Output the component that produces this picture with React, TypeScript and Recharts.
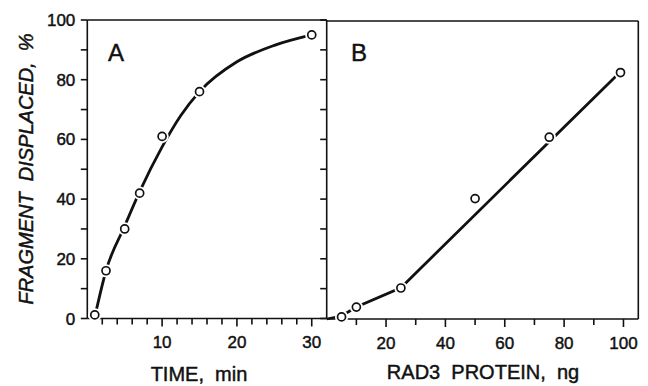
import { LineChart, Line, XAxis, YAxis } from "recharts";

// panel A: time course
const timeMin = [1, 2.5, 5, 7, 10, 15, 30];
const displacedA = [1.2, 16, 30, 42, 61, 76, 95];
const fitTime = [1, 2.5, 5, 7, 10, 12.5, 15, 20, 25, 30];
const fitA = [0.5, 16, 31, 42.5, 57.5, 68, 76, 86, 91.5, 95];

// panel B: protein titration
const rad3Ng = [5, 10, 25, 50, 75, 99];
const displacedB = [0.7, 4, 10.4, 40.4, 61, 82.7];
const fitNg = [0, 5, 10, 25, 99];
const fitB = [0, 1, 4, 10.5, 83];

const yTicks = [0, 10, 20, 30, 40, 50, 60, 70, 80, 90, 100];
const yLabels = [0, 20, 40, 60, 80, 100];
const timeTicks = [2, 4, 6, 8, 10, 12, 14, 16, 18, 20, 22, 24, 26, 28, 30];
const timeLabels = [10, 20, 30];
const ngTicks = [10, 20, 30, 40, 50, 60, 70, 80, 90, 100];
const ngLabels = [20, 40, 60, 80, 100];

const pointsA = timeMin.map((t, i) => ({ x: t, y: displacedA[i] }));
const curveA = fitTime.map((t, i) => ({ x: t, y: fitA[i] }));
const pointsB = rad3Ng.map((n, i) => ({ x: n, y: displacedB[i] }));
const curveB = fitNg.map((n, i) => ({ x: n, y: fitB[i] }));

const FONT = '"Liberation Sans", Arial, Helvetica, sans-serif';
const INK = "#111";
const AXIS_W = 1.6;
// scanned type is a bit heavier than the regular face
const heavy = { stroke: INK, strokeWidth: 0.45 };

function OpenDot(p: any) {
  if (p.cx == null || p.cy == null) return <g key={p.index} />;
  return (
    <g key={p.index}>
      <circle cx={p.cx} cy={p.cy} r={6.6} fill="#fff" />
      <circle cx={p.cx} cy={p.cy} r={4} fill="#fff" stroke={INK} strokeWidth={1.7} />
    </g>
  );
}

function makeXTick(labels: number[]) {
  return (p: any) => {
    const major = labels.includes(p.payload.value);
    return (
      <g>
        <line x1={p.x} x2={p.x} y1={p.y} y2={p.y + (major ? 8 : 6)} stroke={INK} strokeWidth={AXIS_W} />
        {major && (
          <text x={p.x} y={p.y + 29.5} textAnchor="middle" fontSize={17} fontFamily={FONT} fill={INK} {...heavy}>
            {p.payload.value}
          </text>
        )}
      </g>
    );
  };
}

function LeftYTick(p: any) {
  const lab = yLabels.includes(p.payload.value);
  return (
    <g>
      <line x1={p.x - 6.5} x2={p.x} y1={p.y} y2={p.y} stroke={INK} strokeWidth={AXIS_W} />
      {lab && (
        <text x={p.x - 12} y={p.y + 6} textAnchor="end" fontSize={17} fontFamily={FONT} fill={INK} {...heavy}>
          {p.payload.value}
        </text>
      )}
    </g>
  );
}

function InnerRightTick(p: any) {
  return <line x1={p.x - 6.5} x2={p.x} y1={p.y} y2={p.y} stroke={INK} strokeWidth={AXIS_W} />;
}

const frameLine = { stroke: INK, strokeWidth: AXIS_W };
const W = 648;
const H = 386;

export default function App() {
  return (
    <div style={{ position: "absolute", left: 0, top: 0, width: W, height: H, background: "#fff" }}>
      <div style={{ position: "absolute", left: 0, top: 0 }}>
        <LineChart width={W} height={H} margin={{ top: 19, right: W - 327.7, bottom: 37.5, left: 0 }}>
          <Line data={curveA} dataKey="y" type="monotone" stroke={INK} strokeWidth={2.8} dot={false} isAnimationActive={false} />
          <Line
            data={pointsA}
            dataKey="y"
            xAxisId="t"
            yAxisId="r"
            stroke="none"
            dot={OpenDot}
            activeDot={false}
            isAnimationActive={false}
          />
          <XAxis
            type="number"
            dataKey="x"
            domain={[0, 32]}
            ticks={timeTicks}
            interval={0}
            height={30}
            tickSize={0}
            tickMargin={0}
            tickLine={false}
            axisLine={frameLine}
            tick={makeXTick(timeLabels)}
            allowDataOverflow
          />
          <XAxis
            xAxisId="t"
            orientation="top"
            type="number"
            dataKey="x"
            domain={[0, 32]}
            height={1}
            tick={false}
            tickLine={false}
            axisLine={frameLine}
            allowDataOverflow
          />
          <YAxis
            type="number"
            domain={[0, 100]}
            ticks={yTicks}
            interval={0}
            width={87.3}
            tickSize={0}
            tickMargin={0}
            tickLine={false}
            axisLine={frameLine}
            tick={LeftYTick}
          />
          <YAxis
            yAxisId="r"
            orientation="right"
            type="number"
            domain={[0, 100]}
            ticks={yTicks}
            interval={0}
            width={1}
            tickSize={0}
            tickMargin={0}
            tickLine={false}
            axisLine={frameLine}
            tick={InnerRightTick}
          />
        </LineChart>
      </div>
      <div style={{ position: "absolute", left: 0, top: 0 }}>
        <LineChart width={W} height={H} margin={{ top: 20, right: W - 639.3, bottom: 37, left: 326.7 }}>
          <Line data={curveB} dataKey="y" type="linear" stroke={INK} strokeWidth={2.8} dot={false} isAnimationActive={false} />
          <Line
            data={pointsB}
            dataKey="y"
            xAxisId="t"
            yAxisId="r"
            stroke="none"
            dot={OpenDot}
            activeDot={false}
            isAnimationActive={false}
          />
          <XAxis
            type="number"
            dataKey="x"
            domain={[0, 105]}
            ticks={ngTicks}
            interval={0}
            height={30}
            tickSize={0}
            tickMargin={0}
            tickLine={false}
            axisLine={frameLine}
            tick={makeXTick(ngLabels)}
            allowDataOverflow
          />
          <XAxis
            xAxisId="t"
            orientation="top"
            type="number"
            dataKey="x"
            domain={[0, 105]}
            height={1}
            tick={false}
            tickLine={false}
            axisLine={frameLine}
            allowDataOverflow
          />
          <YAxis type="number" domain={[0, 100]} hide />
          <YAxis
            yAxisId="r"
            orientation="right"
            type="number"
            domain={[0, 100]}
            width={1}
            tick={false}
            tickLine={false}
            axisLine={frameLine}
          />
        </LineChart>
      </div>
      <svg width={W} height={H} style={{ position: "absolute", left: 0, top: 0, pointerEvents: "none" }}>
        <text
          transform="translate(33,169) rotate(-90)"
          textAnchor="middle"
          fontSize={20}
          fontFamily={FONT}
          fontStyle="italic"
          fill={INK}
          {...heavy}
          style={{ whiteSpace: "pre" }}
        >
          {"FRAGMENT  DISPLACED,  %"}
        </text>
        <text x={199} y={381} textAnchor="middle" fontSize={20} fontFamily={FONT} fill={INK} {...heavy} style={{ whiteSpace: "pre" }}>
          {"TIME,  min"}
        </text>
        <text x={483} y={379} textAnchor="middle" fontSize={20} fontFamily={FONT} fill={INK} {...heavy} style={{ whiteSpace: "pre" }}>
          {"RAD3  PROTEIN,  ng"}
        </text>
        <text x={116} y={61} textAnchor="middle" fontSize={24} fontFamily={FONT} fill={INK} {...heavy}>
          A
        </text>
        <text x={359} y={61} textAnchor="middle" fontSize={24} fontFamily={FONT} fill={INK} {...heavy}>
          B
        </text>
      </svg>
    </div>
  );
}
